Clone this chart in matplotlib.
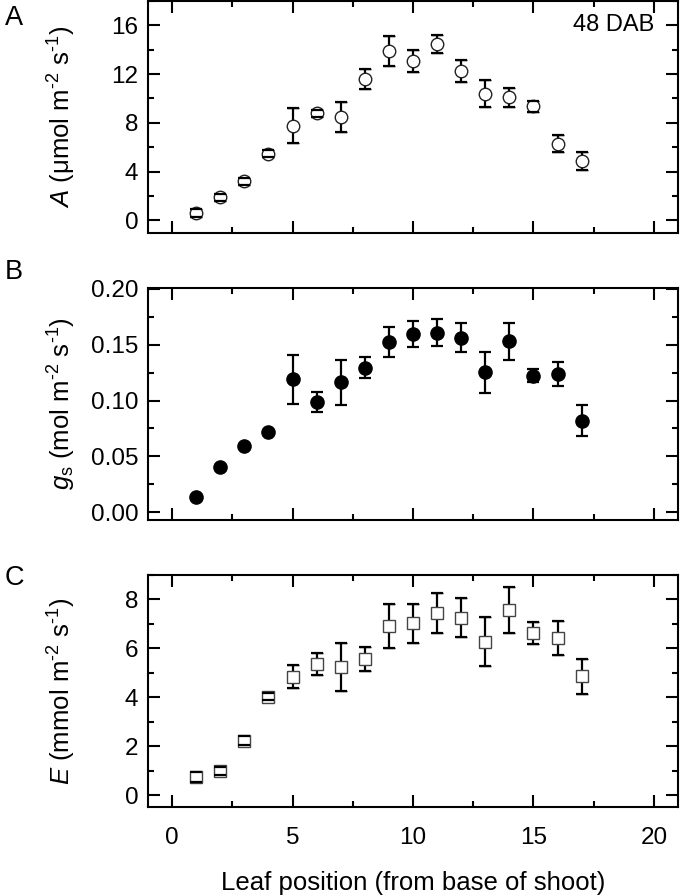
import numpy as np
import matplotlib
matplotlib.use("Agg")
import matplotlib.pyplot as plt
from matplotlib.ticker import MultipleLocator

plt.rcParams["font.family"] = ["Liberation Sans", "DejaVu Sans"]
plt.rcParams["mathtext.fontset"] = "custom"
plt.rcParams["mathtext.rm"] = "Liberation Sans"
plt.rcParams["mathtext.it"] = "Liberation Sans:italic"

leaf = [1, 2, 3, 4, 5, 6, 7, 8, 9, 10, 11, 12, 13, 14, 15, 16, 17]

A_mean = [0.6, 1.9, 3.2, 5.47, 7.77, 8.78, 8.45, 11.6, 13.9, 13.1, 14.5,
          12.25, 10.4, 10.1, 9.35, 6.3, 4.84]
A_err = [0.3, 0.3, 0.3, 0.3, 1.45, 0.3, 1.23, 0.85, 1.25, 0.9, 0.73,
         0.9, 1.1, 0.8, 0.45, 0.7, 0.73]

gs_mean = [0.0137, 0.0404, 0.0597, 0.0722, 0.1189, 0.0984, 0.1162, 0.1293,
           0.1527, 0.1593, 0.1608, 0.1563, 0.1251, 0.153, 0.1224, 0.1236, 0.082]
gs_err = [0.0, 0.0, 0.0, 0.0, 0.0216, 0.009, 0.0203, 0.0095, 0.0134, 0.0116,
          0.0122, 0.013, 0.0184, 0.0165, 0.006, 0.011, 0.0137]

E_mean = [0.75, 0.98, 2.23, 4.03, 4.84, 5.38, 5.25, 5.56, 6.92, 7.02, 7.45,
          7.25, 6.28, 7.56, 6.63, 6.43, 4.86]
E_err = [0.2, 0.15, 0.2, 0.15, 0.46, 0.45, 0.98, 0.5, 0.91, 0.8, 0.83,
         0.8, 1.0, 0.95, 0.44, 0.7, 0.72]

W, H = 680, 896
fig = plt.figure(figsize=(6.8, 8.96), dpi=100)

left = 148 / W
width = 530 / W
boxes = [(1, 232.5), (288.3, 520), (575, 807.3)]
axes = []
for top, bot in boxes:
    ax = fig.add_axes([left, 1 - bot / H, width, (bot - top) / H])
    axes.append(ax)

ax1, ax2, ax3 = axes

ekw = dict(ecolor="black", elinewidth=1.6, capsize=4.5, capthick=1.6, ls="none")
capkw = dict(fmt="none", ecolor="black", elinewidth=0, capsize=4.5,
             capthick=1.6, zorder=4)

ax1.errorbar(leaf, A_mean, yerr=A_err, marker="o", ms=9, mfc="white",
             mec="#222222", mew=1.0, **ekw)
ax1.errorbar(leaf, A_mean, yerr=A_err, **capkw)
ax2.errorbar(leaf, gs_mean, yerr=gs_err, marker="o", ms=9.5, mfc="black",
             mec="black", **ekw)
ax3.errorbar(leaf, E_mean, yerr=E_err, marker="s", ms=9, mfc="white",
             mec="#444444", mew=1.0, **ekw)
ax3.errorbar(leaf, E_mean, yerr=E_err, **capkw)

ax1.set_ylim(-1, 18)
ax1.yaxis.set_major_locator(MultipleLocator(4))
ax1.yaxis.set_minor_locator(MultipleLocator(2))

ax2.set_ylim(-0.007, 0.2005)
ax2.yaxis.set_major_locator(MultipleLocator(0.05))
ax2.yaxis.set_minor_locator(MultipleLocator(0.025))
ax2.yaxis.set_major_formatter(plt.FuncFormatter(lambda v, p: f"{v:.2f}"))

ax3.set_ylim(-0.5, 9)
ax3.yaxis.set_major_locator(MultipleLocator(2))
ax3.yaxis.set_minor_locator(MultipleLocator(1))

for ax in axes:
    ax.set_xlim(-1, 21)
    ax.xaxis.set_major_locator(MultipleLocator(5))
    ax.xaxis.set_minor_locator(MultipleLocator(2.5))
    ax.tick_params(which="both", direction="in", top=True, right=True,
                   width=1.5, labelsize=17.5)
    ax.tick_params(axis="y", pad=7)
    ax.tick_params(axis="x", pad=14)
    ax.tick_params(which="major", length=8.5)
    ax.tick_params(which="minor", length=4.5)
    for s in ax.spines.values():
        s.set_linewidth(1.5)
    if ax is not ax3:
        ax.tick_params(labelbottom=False)

ax3.set_xlabel("Leaf position (from base of shoot)", fontsize=18.5, labelpad=16)

ax1.text(0.955, 0.895, "48 DAB", transform=ax1.transAxes, ha="right",
         va="center", fontsize=17)

ylab = 62 / W
fig.text(ylab, 1 - 116.5 / H, r"$\it{A}$ (μmol m$^{\text{-2}}$ s$^{\text{-1}}$)",
         rotation=90, ha="center", va="center", fontsize=18.5)
fig.text(ylab, 1 - 404 / H, r"$\it{g}_{\rm s}$ (mol m$^{\text{-2}}$ s$^{\text{-1}}$)",
         rotation=90, ha="center", va="center", fontsize=18.5)
fig.text(ylab, 1 - 691 / H, r"$\it{E}$ (mmol m$^{\text{-2}}$ s$^{\text{-1}}$)",
         rotation=90, ha="center", va="center", fontsize=18.5)

for lab, y in [("A", 18), ("B", 272), ("C", 578)]:
    fig.text(14 / W, 1 - y / H, lab, ha="center", va="center", fontsize=19.5)

fig.savefig("out.png", dpi=100)
